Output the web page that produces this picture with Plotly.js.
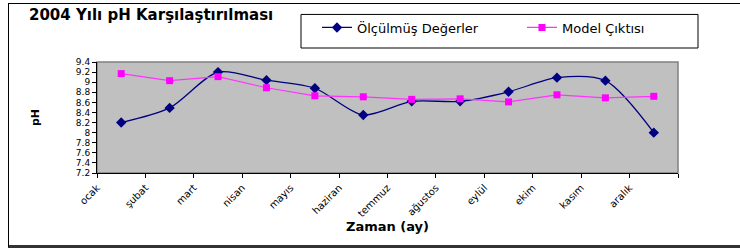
<!DOCTYPE html>
<html>
<head>
<meta charset="utf-8">
<script src="https://cdn.plot.ly/plotly-3.0.1.min.js"></script>
<style>
html,body{margin:0;padding:0;background:#fff;}
#frame{position:absolute;left:8px;top:3px;width:740px;height:241px;border-left:1px solid #000;border-top:1px solid #000;border-bottom:3px solid #333;z-index:0;}
#chart{position:absolute;left:0;top:0;width:740px;height:249px;z-index:1;}
</style>
</head>
<body>
<div id="frame"></div>
<div id="chart"></div>
<script>
// Months (categories)
const months = ["ocak","şubat","mart","nisan","mayıs","haziran","temmuz","ağustos","eylül","ekim","kasım","aralık"];
// Measured pH values
const olculmus = [8.20, 8.49, 9.20, 9.04, 8.88, 8.35, 8.62, 8.62, 8.81, 9.09, 9.03, 8.00];
// Model output pH values
const model = [9.17, 9.03, 9.11, 8.89, 8.73, 8.71, 8.66, 8.67, 8.61, 8.75, 8.69, 8.72];
// Y axis ticks
const yTickVals = [7.2,7.4,7.6,7.8,8.0,8.2,8.4,8.6,8.8,9.0,9.2,9.4];
const yTickText = ["7.2","7.4","7.6","7.8","8","8.2","8.4","8.6","8.8","9","9.2","9.4"];

const xPos = months.map((m,i)=>i+0.5);
const xTickVals = months.map((m,i)=>i).concat([months.length]);
const xTickText = months.concat([""]);

const FONT = "DejaVu Sans, Arial, sans-serif";

const traces = [
  {
    x: xPos, y: olculmus, name: "Ölçülmüş Değerler", type: "scatter", mode: "lines+markers",
    line: {color: "#000080", width: 1.3, shape: "spline", smoothing: 0.8},
    marker: {symbol: "diamond", size: 8, color: "#000080"},
    legendwidth: 160
  },
  {
    x: xPos, y: model, name: "Model Çıktısı", type: "scatter", mode: "lines+markers",
    line: {color: "#FF33FF", width: 1.2},
    marker: {symbol: "square", size: 7, color: "#FF00FF"},
    legendwidth: 100
  }
];

const L = 97, R = 678, T = 54, B = 173, W = 740, H = 249;
const px = v => (v - L) / (R - L);
const py = v => (B - v) / (B - T);

const layout = {
  width: W, height: H,
  margin: {l: L, r: W - R, t: T, b: H - B, pad: 0},
  paper_bgcolor: "rgba(0,0,0,0)",
  plot_bgcolor: "#C0C0C0",
  font: {family: FONT, color: "#000", size: 12},
  showlegend: true,
  title: {
    text: "<b>2004 Yılı pH Karşılaştırılması</b>",
    font: {family: FONT, size: 15, color: "#000"},
    x: 29 / W, xanchor: "left", xref: "container",
    y: 1 - 15 / H, yanchor: "middle", yref: "container"
  },
  xaxis: {
    range: [0, months.length],
    tickmode: "array", tickvals: xTickVals, ticktext: xTickText,
    tickangle: -45, ticks: "outside", ticklen: 4, tickcolor: "#000",
    showline: true, linecolor: "#000", linewidth: 1,
    showgrid: false, zeroline: false, fixedrange: true,
    tickfont: {family: FONT, size: 10, color: "#000"},
    automargin: false
  },
  yaxis: {
    range: [7.2, 9.4],
    tickmode: "array", tickvals: yTickVals, ticktext: yTickText,
    ticks: "outside", ticklen: 4, tickcolor: "#000",
    showline: true, linecolor: "#000", linewidth: 1,
    showgrid: false, zeroline: false, fixedrange: true,
    tickfont: {family: FONT, size: 9, color: "#000"},
    title: {text: "<b>pH</b>", font: {family: FONT, size: 11, color: "#000"}, standoff: 34},
    automargin: false
  },
  annotations: [
    {text: "<b>Zaman (ay)</b>", xref: "paper", yref: "paper", x: 0.5, y: py(230),
     xanchor: "center", yanchor: "middle", showarrow: false,
     font: {family: FONT, size: 13, color: "#000"}}
  ],
  legend: {
    orientation: "h",
    x: px(317), xanchor: "left",
    y: py(17), yanchor: "middle",
    bgcolor: "rgba(0,0,0,0)", borderwidth: 0,
    font: {family: FONT, size: 13, color: "#000"},
    entrywidthmode: "pixels",
    traceorder: "normal"
  },
  shapes: [
    {type: "rect", xref: "paper", yref: "paper", x0: 0, x1: 1, y0: 0, y1: 1,
     line: {color: "#808080", width: 1.5}, layer: "below"},
    {type: "rect", xref: "paper", yref: "paper", x0: px(301), x1: px(698), y0: py(39), y1: py(3),
     line: {color: "#000", width: 1}, fillcolor: "rgba(0,0,0,0)"}
  ]
};

Plotly.newPlot("chart", traces, layout, {staticPlot: true, displayModeBar: false});
</script>
</body>
</html>
